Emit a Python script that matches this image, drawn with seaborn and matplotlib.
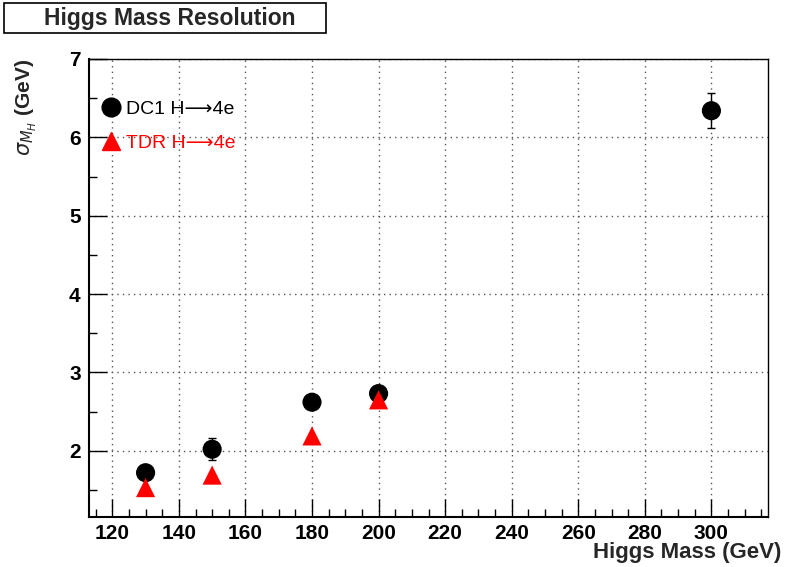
import matplotlib
matplotlib.use("Agg")
import matplotlib.pyplot as plt
import seaborn as sns
import pandas as pd
import numpy as np
from matplotlib.lines import Line2D
from matplotlib.patches import Rectangle
from matplotlib.ticker import MultipleLocator

sns.set_style("white")
plt.rcParams['font.family'] = ['Liberation Sans', 'DejaVu Sans']

mass = [130, 150, 180, 200, 300]
dc1_sigma = [1.72, 2.02, 2.62, 2.73, 6.34]
dc1_err = [0.05, 0.14, 0.05, 0.05, 0.22]
tdr_mass = [130, 150, 180, 200]
tdr_sigma = [1.53, 1.69, 2.19, 2.65]

series_labels = ["DC1 H\u27f64e", "TDR H\u27f64e"]

df = pd.concat([
    pd.DataFrame({"mass": mass, "sigma": dc1_sigma, "series": series_labels[0]}),
    pd.DataFrame({"mass": tdr_mass, "sigma": tdr_sigma, "series": series_labels[1]}),
])

W, H = 786, 567
fig = plt.figure(figsize=(W/100, H/100), dpi=100)
ax = fig.add_axes([89/W, 1-517/H, (768-89)/W, (517-59)/H])

ax.errorbar(mass, dc1_sigma, yerr=dc1_err, fmt='none', ecolor='black',
            elinewidth=1, capsize=3, zorder=2)
sns.scatterplot(data=df, x="mass", y="sigma", hue="series", style="series",
                palette={series_labels[0]: "black", series_labels[1]: "red"},
                markers={series_labels[0]: "o", series_labels[1]: "^"},
                s=190, edgecolor="none", legend=False, ax=ax, zorder=3)

ax.set_xlim(113, 317)
ax.set_ylim(1.155, 7.0)
ax.xaxis.set_major_locator(MultipleLocator(20))
ax.xaxis.set_minor_locator(MultipleLocator(5))
ax.yaxis.set_major_locator(MultipleLocator(1))
ax.yaxis.set_minor_locator(MultipleLocator(0.5))
ax.tick_params(which='both', direction='in', top=False, right=False, bottom=True, left=True,
               colors='black', labelsize=15)
ax.tick_params(which='major', length=13, width=1)
ax.tick_params(which='minor', length=6, width=1)
ax.xaxis.set_tick_params(pad=5)
ax.yaxis.set_tick_params(pad=6)
for lab in ax.get_xticklabels() + ax.get_yticklabels():
    lab.set_fontweight('bold')
ax.grid(True, which='major', linestyle=(0, (1, 3)), color='#555555', linewidth=1)
for sp in ax.spines.values():
    sp.set_visible(True)
    sp.set_color('black')
    sp.set_linewidth(1)
ax.spines['left'].set_linewidth(1.5)
ax.spines['bottom'].set_linewidth(1.5)

ax.set_xlabel("Higgs Mass (GeV)", fontsize=16, fontweight='bold', ha='right')
ax.xaxis.set_label_coords(781/679 - 89/679, -0.055, transform=ax.transAxes)
ax.xaxis.label.set_va('top')
ax.set_ylabel(r"$\sigma_{M_H}$ (GeV)", fontsize=15, fontweight='bold', ha='right')
ax.yaxis.set_label_coords(-0.073, 1.0)

handles = [Line2D([], [], marker='o', color='black', linestyle='none', markersize=13.5),
           Line2D([], [], marker='^', color='red', linestyle='none', markersize=13.5)]
leg = ax.legend(handles, series_labels, loc='upper left', bbox_to_anchor=(-0.006, 0.935),
                frameon=False, fontsize=14, labelcolor=['black', 'red'],
                handletextpad=0.0, borderaxespad=0.2, labelspacing=0.85, handlelength=1.5)

fig.patches.append(Rectangle((4/W, 1-33/H), 322/W, 30/H, transform=fig.transFigure,
                             facecolor='white', edgecolor='black', linewidth=1.2))
fig.text(170/W, 1-18/H, "Higgs Mass Resolution", fontsize=16.5, fontweight='bold',
         ha='center', va='center')

fig.savefig("out.png", dpi=100)
